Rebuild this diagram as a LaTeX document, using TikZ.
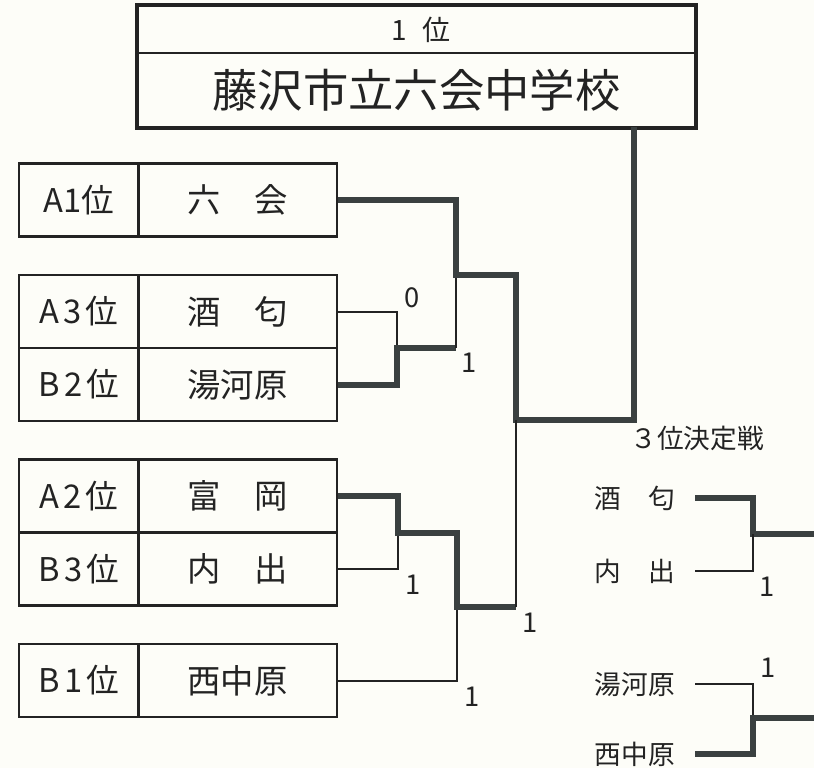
\documentclass[tikz,border=0pt]{standalone}
\usepackage{fontspec}
\setmainfont{Noto Sans CJK JP}
\definecolor{bg}{RGB}{253,253,248}
\definecolor{ink}{RGB}{35,35,35}
\definecolor{wline}{RGB}{58,64,64}
\newcommand{\rsp}{\hspace{0.12em}}
\begin{document}
\begin{tikzpicture}[x=0.75pt,y=-0.75pt,
  cell/.style={draw=ink, line width=1.9pt, inner sep=0pt, minimum height=54.75pt, text=ink},
  rankcell/.style={cell, minimum width=90pt, font=\fontsize{24.5}{25}\selectfont},
  namecell/.style={cell, minimum width=149.25pt, font=\fontsize{25}{26}\selectfont},
  topcell/.style={draw=ink, line width=1.5pt, minimum width=417.75pt, inner sep=0pt, text=ink},
  thin/.style={draw=ink, line width=1.5pt},
  win/.style={draw=wline, line width=4.5pt},
  score/.style={text=ink, font=\fontsize{20.5}{20.5}\selectfont, inner sep=0pt},
  tname/.style={anchor=east, inner xsep=15pt, inner ysep=0pt, text=ink, font=\fontsize{20}{20}\selectfont}
]
\useasboundingbox (0,0) rectangle (814,768);
\fill[bg] (0,0) rectangle (814,768);

% champion box
\node[topcell, minimum height=35.25pt, font=\fontsize{21}{21}\selectfont] (crank) at (416.5,29.5) {\hspace{0.3em}1\hspace{0.55em}位};
\node[topcell, minimum height=55.5pt, font=\fontsize{34}{34}\selectfont] (cname) at (416.5,90) {藤沢市立六会中学校};
\draw[draw=ink, line width=3.4pt] (crank.north west) rectangle (cname.south east);
\coordinate (cdrop) at (634,127);

% entries
\node[rankcell] (rA1) at (79,200) {A1位};
\node[namecell] (nA1) at (237.5,200) {六　会};
\node[rankcell] (rA3) at (79,311.5) {A\rsp{}3\rsp{}位};
\node[namecell] (nA3) at (237.5,311.5) {酒　匂};
\node[rankcell] (rB2) at (79,384.5) {B\rsp{}2\rsp{}位};
\node[namecell] (nB2) at (237.5,384.5) {湯河原};
\node[rankcell] (rA2) at (79,496) {A\rsp{}2\rsp{}位};
\node[namecell] (nA2) at (237.5,496) {富　岡};
\node[rankcell] (rB3) at (79,569) {B\rsp{}3\rsp{}位};
\node[namecell] (nB3) at (237.5,569) {内　出};
\node[rankcell] (rB1) at (79,680.5) {B\rsp{}1\rsp{}位};
\node[namecell] (nB1) at (237.5,680.5) {西中原};

% junctions
\coordinate (m1) at (397,348);
\coordinate (m2) at (456,275);
\coordinate (m3) at (398,533);
\coordinate (m4) at (457,607);
\coordinate (m5) at (516,420);

% upper bracket
\draw[thin] (nA3.east) -| (m1);
\draw[win] (nB2.east) -| (m1) -- (m1 -| m2);
\draw[thin] (m1 -| m2) -- (m2);
\draw[win] (nA1.east) -| (m2) -| (m5) -| (cdrop);

% lower bracket
\draw[thin] (nB3.east) -| (m3);
\draw[thin] (nB1.east) -| (m4);
\draw[win] (nA2.east) -| (m3) -| (m4) -- (m4 -| m5);
\draw[thin] (m4 -| m5) -- (m5);

% scores
\node[score] (s1) at (412,298) {0};
\node[score] (s2) at (469,363) {1};
\node[score] (s3) at (413,585) {1};
\node[score] (s4) at (530,623) {1};
\node[score] (s5) at (472,697) {1};

% third place
\node[text=ink, font=\fontsize{20}{20}\selectfont] (t0) at (697,438) {３位決定戦};
\node[tname] (t1) at (695,498) {酒　匂};
\node[tname] (t2) at (695,571) {内　出};
\node[tname] (t3) at (695,684) {湯河原};
\node[tname] (t4) at (695,754) {西中原};
\coordinate (k1) at (753,534);
\coordinate (k2) at (753,718);
\coordinate (e1) at (814,534);
\coordinate (e2) at (814,718);
\draw[win] (t1.east) -| (k1) -- (e1);
\draw[thin] (t2.east) -| (k1);
\draw[thin] (t3.east) -| (k2);
\draw[win] (t4.east) -| (k2) -- (e2);
\node[score] (s6) at (767,587) {1};
\node[score] (s7) at (768,668) {1};
\end{tikzpicture}
\end{document}
